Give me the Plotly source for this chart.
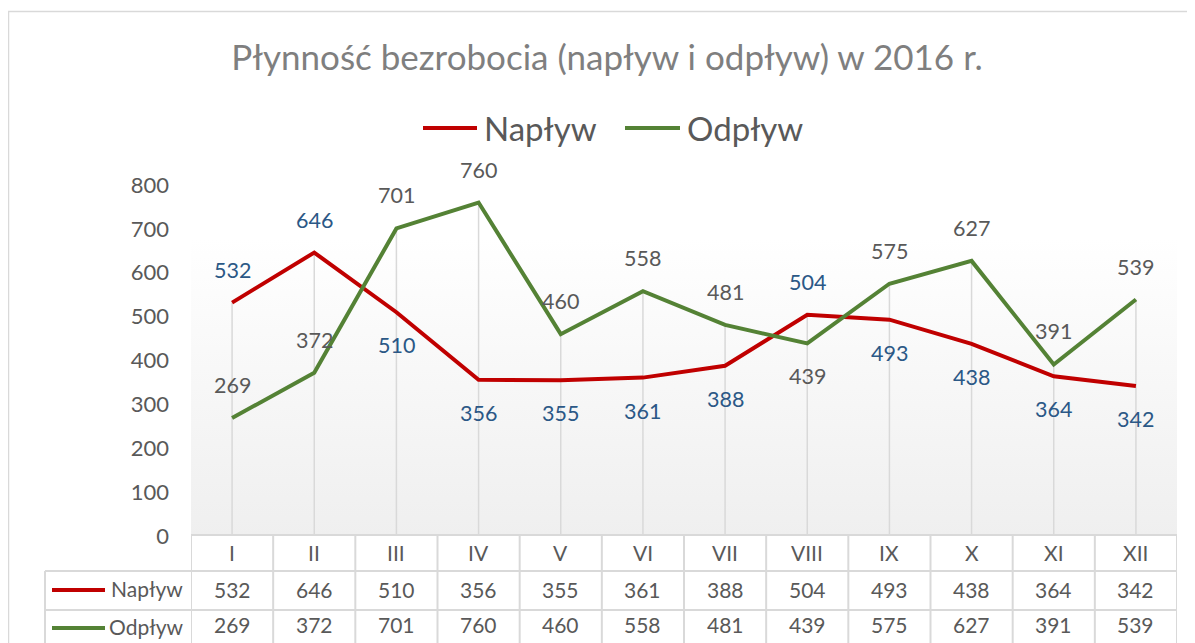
import plotly.graph_objects as go

categories = ["I", "II", "III", "IV", "V", "VI", "VII", "VIII", "IX", "X", "XI", "XII"]
naplyw = [532, 646, 510, 356, 355, 361, 388, 504, 493, 438, 364, 342]
odplyw = [269, 372, 701, 760, 460, 558, 481, 439, 575, 627, 391, 539]
series_names = ["Napływ", "Odpływ"]
title_text = "Płynność bezrobocia (napływ i odpływ) w 2016 r."
y_ticks = [0, 100, 200, 300, 400, 500, 600, 700, 800]

# label placement (style)
nap_pos = [1, 1, -1, -1, -1, -1, -1, 1, -1, -1, -1, -1]
odp_pos = [1, 1, 1, 1, 1, 1, 1, -1, 1, 1, 1, 1]

RED = "#c00000"
GREEN = "#548235"
BLUE_LBL = "#2b5886"
TXT = "#595959"
GRID = "#d9d9d9"
FONT = "Lato, 'Open Sans', sans-serif"

OFF = 8  # page body margin
W, H = 1195 - OFF, 643 - OFF
# plot area in screen pixels
SL, SR, ST, SB = 191, 1177, 185, 536
L, R, T, B = SL - OFF, SR - OFF, ST - OFF, SB - OFF


def px(x):  # screen x -> paper
    return (x - SL) / (SR - SL)


def py(y):  # screen y -> paper
    return (SB - y) / (SB - ST)


n = len(categories)
xi = list(range(n))
ymin, ymax = 0, 800
xmin, xmax = -0.5, n - 0.5

fig = go.Figure()

# plot-area gradient background
fig.add_trace(go.Scatter(
    x=[xmin, xmax, xmax, xmin, xmin], y=[ymin, ymin, ymax, ymax, ymin],
    mode="lines", line=dict(width=0), fill="toself",
    fillgradient=dict(type="vertical", colorscale=[[0, "#efefef"], [0.85, "#ffffff"], [1, "#ffffff"]]),
    hoverinfo="skip", showlegend=False,
))

# drop lines
dx, dy = [], []
for i in xi:
    dx += [i, i, None]
    dy += [max(naplyw[i], odplyw[i]), 0, None]
fig.add_trace(go.Scatter(x=dx, y=dy, mode="lines", line=dict(color=GRID, width=1.5),
                         hoverinfo="skip", showlegend=False))

fig.add_trace(go.Scatter(x=xi, y=naplyw, mode="lines", name=series_names[0],
                         line=dict(color=RED, width=4), showlegend=False))
fig.add_trace(go.Scatter(x=xi, y=odplyw, mode="lines", name=series_names[1],
                         line=dict(color=GREEN, width=4), showlegend=False))

annotations = []
shapes = []

# data labels
for i in xi:
    annotations.append(dict(x=i, y=naplyw[i], xref="x", yref="y", text=str(naplyw[i]),
                            showarrow=False, yshift=33 * nap_pos[i],
                            xanchor="center", yanchor="middle",
                            font=dict(size=21.5, color=BLUE_LBL, family=FONT)))
    annotations.append(dict(x=i, y=odplyw[i], xref="x", yref="y", text=str(odplyw[i]),
                            showarrow=False, yshift=33 * odp_pos[i],
                            xanchor="center", yanchor="middle",
                            font=dict(size=21.5, color=TXT, family=FONT)))

# data table
row_hdr, row1, row2 = 552, 589, 624
tfont = dict(size=21, color=TXT, family=FONT)
for i in xi:
    for txt, yy in [(categories[i], row_hdr), (str(naplyw[i]), row1), (str(odplyw[i]), row2)]:
        annotations.append(dict(x=i, y=py(yy), xref="x", yref="paper", text=txt,
                                xanchor="center", yanchor="middle",
                                showarrow=False, font=tfont))

for k in range(n + 1):
    shapes.append(dict(type="line", xref="x", yref="paper", x0=k - 0.5, x1=k - 0.5,
                       y0=py(534), y1=py(660), line=dict(color=GRID, width=2)))
shapes.append(dict(type="line", xref="paper", yref="paper", x0=px(45), x1=px(45),
                   y0=py(571), y1=py(660), line=dict(color=GRID, width=2)))
for yy, x0 in [(535, SL), (571, 45), (610, 45)]:
    shapes.append(dict(type="line", xref="paper", yref="paper", x0=px(x0), x1=1,
                       y0=py(yy), y1=py(yy), line=dict(color=GRID, width=2)))

# table legend keys
for name, col, yy in [(series_names[0], RED, 590), (series_names[1], GREEN, 628)]:
    shapes.append(dict(type="line", xref="paper", yref="paper", x0=px(52), x1=px(105),
                       y0=py(yy), y1=py(yy), line=dict(color=col, width=4)))
    annotations.append(dict(x=px(185), y=py(yy - 1.5), xref="paper", yref="paper", text=name,
                            xanchor="right", yanchor="middle", showarrow=False, font=tfont))

# top legend
leg_y = 128
for name, col, x0, x1 in [(series_names[0], RED, 423, 477), (series_names[1], GREEN, 625, 680)]:
    shapes.append(dict(type="line", xref="paper", yref="paper", x0=px(x0), x1=px(x1),
                       y0=py(leg_y), y1=py(leg_y), line=dict(color=col, width=4)))
    annotations.append(dict(x=px(x1 + 5), y=py(leg_y), xref="paper", yref="paper", text=name,
                            xanchor="left", yanchor="middle", showarrow=False,
                            font=dict(size=33, color=TXT, family=FONT)))

# chart border
shapes.append(dict(type="line", xref="paper", yref="paper", x0=px(8), x1=px(1200),
                   y0=py(11.5), y1=py(11.5), line=dict(color=GRID, width=1.5)))
shapes.append(dict(type="line", xref="paper", yref="paper", x0=px(8.5), x1=px(8.5),
                   y0=py(11.5), y1=py(660), line=dict(color=GRID, width=1.5)))

fig.update_layout(
    width=W, height=H,
    margin=dict(l=L, r=W - R, t=T, b=H - B),
    paper_bgcolor="white", plot_bgcolor="white",
    title=dict(text=title_text, x=px(607), xref="paper", xanchor="center",
               y=1 - (58 - OFF) / H, yanchor="middle",
               font=dict(size=35, color="#7f7f7f", family=FONT)),
    xaxis=dict(range=[xmin, xmax], showgrid=False, zeroline=False, showticklabels=False,
               showline=False, ticks="", fixedrange=True),
    yaxis=dict(range=[ymin, ymax], tickvals=y_ticks, showgrid=False, zeroline=False,
               showline=False, ticks="", ticklabelstandoff=21,
               tickfont=dict(size=22, color=TXT, family=FONT)),
    annotations=annotations,
    shapes=shapes,
    showlegend=False,
)

fig.write_html("out.html")
